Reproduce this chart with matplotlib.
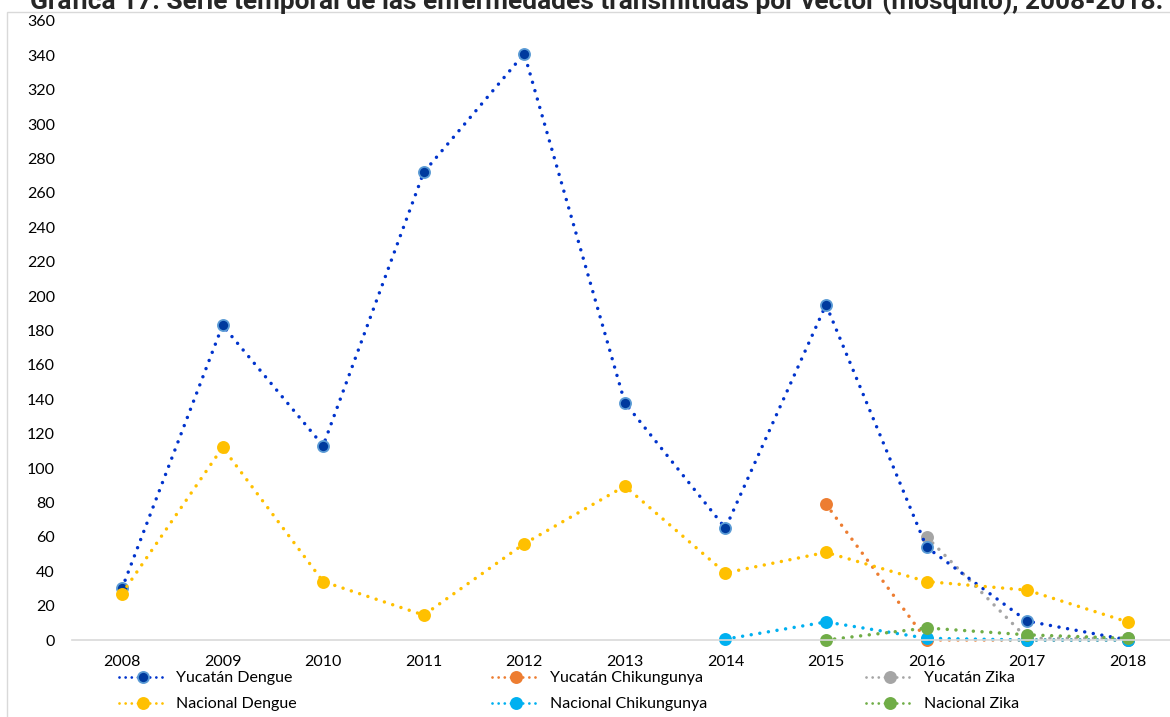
import numpy as np
import matplotlib.pyplot as plt
from matplotlib.lines import Line2D
from matplotlib.patches import Rectangle

plt.rcParams['font.family'] = ['Lato', 'DejaVu Sans']

years = ['2008', '2009', '2010', '2011', '2012', '2013', '2014', '2015', '2016', '2017', '2018']
nan = np.nan

yuc_dengue = [30, 183, 113, 272, 341, 138, 65, 195, 54, 11, 0]
yuc_chik = [nan, nan, nan, nan, nan, nan, nan, 79, 0, 0, 0]
yuc_zika = [nan, nan, nan, nan, nan, nan, nan, nan, 60, 1, 1]
nac_dengue = [27, 112, 34, 14.5, 56, 89.5, 39, 51, 34, 29, 10.5]
nac_chik = [nan, nan, nan, nan, nan, nan, 0.5, 10.5, 1, 0, 0]
nac_zika = [nan, nan, nan, nan, nan, nan, nan, 0, 7, 3, 1]

# (label, values, line colour, marker face, marker edge)
series = [
    ('Yucatán Zika', yuc_zika, '#A5A5A5', '#A5A5A5', '#A5A5A5'),
    ('Yucatán Chikungunya', yuc_chik, '#ED7D31', '#ED7D31', '#ED7D31'),
    ('Yucatán Dengue', yuc_dengue, '#0033CC', '#003A9E', '#5B9BD5'),
    ('Nacional Dengue', nac_dengue, '#FFC000', '#FFC000', '#FFC000'),
    ('Nacional Chikungunya', nac_chik, '#00B0F0', '#00B0F0', '#00B0F0'),
    ('Nacional Zika', nac_zika, '#70AD47', '#70AD47', '#70AD47'),
]

W, H = 1170, 717
fig = plt.figure(figsize=(W / 100, H / 100), dpi=100)
ax = fig.add_axes([71.7 / W, (H - 640) / H, (1178 - 71.7) / W, 619 / H])

lw = 2.5
dots = (0, (0.01, 2.5))
ms = 8
x = np.arange(len(years))
handles = {}
for label, vals, lc, mf, me in series:
    ln, = ax.plot(x, np.array(vals, dtype=float), color=lc, linestyle=dots,
                  dash_capstyle='round', linewidth=lw, marker='o', markersize=ms,
                  markerfacecolor=mf, markeredgecolor=me, markeredgewidth=1.3,
                  clip_on=False, label=label)
    handles[label] = ln

ax.set_xlim(-0.5, 10.5)
ax.set_ylim(0, 360)
ax.set_yticks(np.arange(0, 361, 20))
ax.set_xticks(x)
ax.set_xticklabels(years)
ax.tick_params(length=0, labelsize=11.5, colors='#000000')
ax.tick_params(axis='y', pad=12)
ax.tick_params(axis='x', pad=11)
for s in ['top', 'right', 'left']:
    ax.spines[s].set_visible(False)
ax.spines['bottom'].set_color('#D9D9D9')
ax.spines['bottom'].set_linewidth(1.2)

# legend: three columns of two rows
cols = [('Yucatán Dengue', 'Nacional Dengue', 119),
        ('Yucatán Chikungunya', 'Nacional Chikungunya', 492),
        ('Yucatán Zika', 'Nacional Zika', 866)]
for top, bottom, px in cols:
    hs = []
    for name in (top, bottom):
        h = handles[name]
        hs.append(Line2D([], [], color=h.get_color(), linestyle=(0, (0.01, 2.2)),
                         dash_capstyle='round', linewidth=2.0, marker='o', markersize=ms,
                         markerfacecolor=h.get_markerfacecolor(),
                         markeredgecolor=h.get_markeredgecolor(), markeredgewidth=1.3))
    fig.legend(hs, [top, bottom], loc='upper left', bbox_to_anchor=(px / W, (H - 671) / H),
               frameon=False, fontsize=11.5, handlelength=3.0, handletextpad=0.6,
               labelspacing=0.75, borderpad=0, borderaxespad=0)

# outer frame
fig.patches.append(Rectangle((7 / W, -0.1), 1.2, (H - 12) / H + 0.1, transform=fig.transFigure,
                             fill=False, edgecolor='#D9D9D9', linewidth=1.0, zorder=-1))

fig.text(597 / W, (H - 9) / H,
         'Gráfica 17. Serie temporal de las enfermedades transmitidas por vector (mosquito), 2008-2018.',
         ha='center', va='baseline', fontsize=18.9, fontweight='bold', color='#262626',
         family=['Roboto', 'DejaVu Sans'])

fig.savefig('out.png', dpi=100)
